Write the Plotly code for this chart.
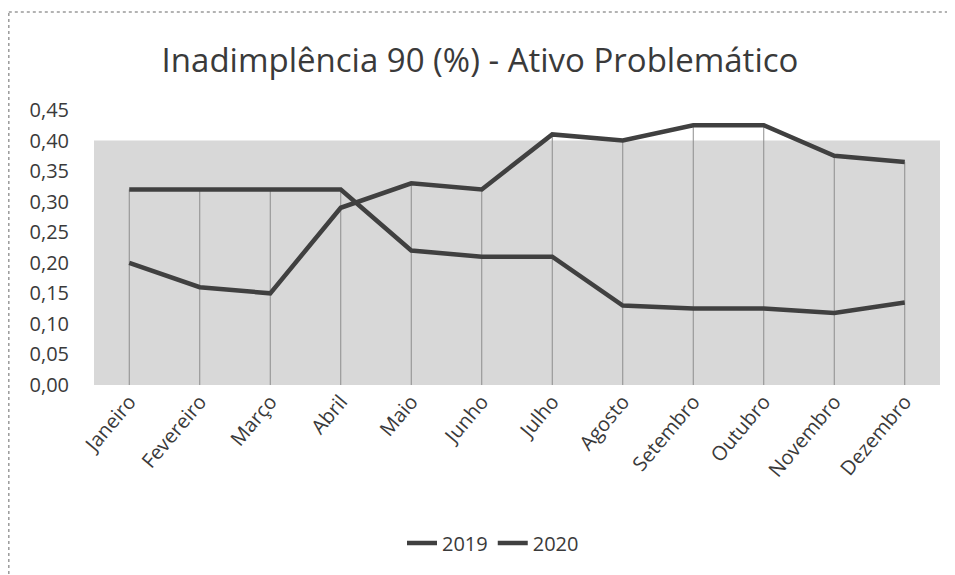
import plotly.graph_objects as go

months = ["Janeiro", "Fevereiro", "Março", "Abril", "Maio", "Junho",
          "Julho", "Agosto", "Setembro", "Outubro", "Novembro", "Dezembro"]
values_2019 = [0.20, 0.16, 0.15, 0.29, 0.33, 0.32, 0.41, 0.40, 0.425, 0.425, 0.375, 0.365]
values_2020 = [0.32, 0.32, 0.32, 0.32, 0.22, 0.21, 0.21, 0.13, 0.125, 0.125, 0.118, 0.135]
y_ticks = [0.00, 0.05, 0.10, 0.15, 0.20, 0.25, 0.30, 0.35, 0.40, 0.45]
shade_top = 0.40

FONT = "Open Sans"
TXT = "#3a3a3a"
LINE = "#404040"

fig = go.Figure()

# drop lines (from axis up to the highest series at each month)
dx, dy = [], []
for m, a, b in zip(months, values_2019, values_2020):
    dx += [m, m, None]
    dy += [0, max(a, b), None]
fig.add_trace(go.Scatter(x=dx, y=dy, mode="lines", line=dict(color="#8c8c8c", width=1),
                         showlegend=False, hoverinfo="skip"))

fig.add_trace(go.Scatter(x=months, y=values_2019, mode="lines", name="2019",
                         line=dict(color=LINE, width=4.5)))
fig.add_trace(go.Scatter(x=months, y=values_2020, mode="lines", name="2020",
                         line=dict(color=LINE, width=4.5)))

OFF = 8  # page body margin
W, H = 955 - OFF, 575 - OFF
L, T = 94 - OFF, 110 - OFF
R = W - (940 - OFF)
B = H - (385 - OFF)
pw, ph = W - L - R, H - T - B

def px_x(p):  # screen px -> paper x
    return (p - OFF - L) / pw

def px_y(p):  # screen px -> paper y
    return (H - B - (p - OFF)) / ph

shapes = [
    dict(type="rect", xref="paper", yref="y", x0=0, x1=1, y0=0, y1=shade_top,
         fillcolor="#d8d8d8", line=dict(width=0), layer="below"),
    dict(type="line", xref="paper", yref="paper", x0=px_x(8.8), x1=px_x(8.8),
         y0=px_y(580), y1=px_y(12), line=dict(color="#9a9a9a", width=1.5, dash="dot")),
    dict(type="line", xref="paper", yref="paper", x0=px_x(8.8), x1=px_x(960),
         y0=px_y(12), y1=px_y(12), line=dict(color="#9a9a9a", width=1.5, dash="dot")),
]

fig.update_layout(
    width=W, height=H,
    margin=dict(l=L, r=R, t=T, b=B),
    paper_bgcolor="white", plot_bgcolor="white",
    separators=",.",
    font=dict(family=FONT, color=TXT, size=20),
    title=dict(text="Inadimplência 90 (%) - Ativo Problemático",
               x=(480 - OFF) / W, xref="container", xanchor="center",
               y=1 - (60 - OFF) / H, yref="container", yanchor="middle",
               font=dict(family=FONT, size=33, color=TXT)),
    shapes=shapes,
    showlegend=True,
    legend=dict(orientation="h", x=px_x(493), xanchor="center",
                y=px_y(543), yanchor="middle",
                font=dict(family=FONT, size=20, color=TXT),
                bgcolor="rgba(0,0,0,0)", itemwidth=30),
    xaxis=dict(type="category", categoryorder="array", categoryarray=months,
               range=[-0.5, 11.5], showgrid=False, showline=False, zeroline=False,
               tickangle=-50, tickfont=dict(family=FONT, size=20, color=TXT),
               ticks="", fixedrange=True),
    yaxis=dict(range=[0, 0.45], tickvals=y_ticks, tickformat=".2f",
               showgrid=False, showline=False, zeroline=False,
               tickfont=dict(family=FONT, size=20, color=TXT),
               ticks="outside", ticklen=20, tickcolor="rgba(0,0,0,0)",
               fixedrange=True),
)

fig.write_html("out.html")
